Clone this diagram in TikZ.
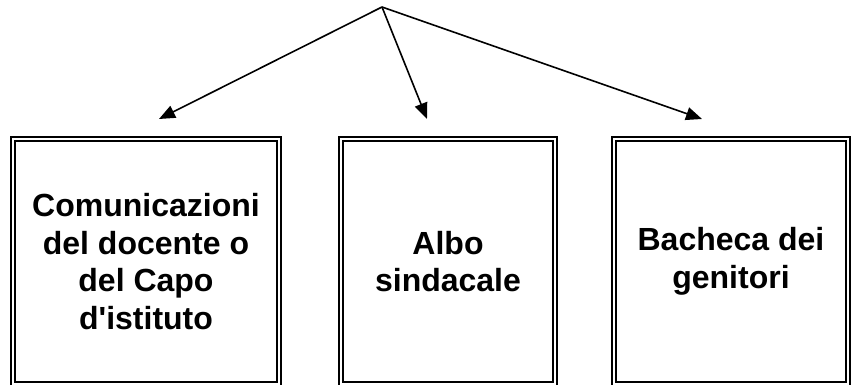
\documentclass[tikz,border=0pt]{standalone}
\usepackage{fontspec}
\setmainfont{Liberation Sans}[Ligatures=TeXOff]
\usetikzlibrary{arrows.meta}
\tikzset{
  boxnode/.style={draw=black, line width=2pt, double=white, double distance=2pt,
    rectangle, minimum height=245pt, inner sep=0pt, align=center,
    font=\fontsize{32}{37.5}\selectfont\bfseries},
  arrowline/.style={line width=1.6pt, -{Triangle[length=16pt,width=13pt]}}
}
\begin{document}
\begin{tikzpicture}[x=1pt,y=1pt]
\useasboundingbox (0,0) rectangle (852,385);
\fill[white] (0,0) rectangle (852,385);
\node[boxnode, minimum width=266pt] (b1) at (146,123.5) {Comunicazioni\\del docente o\\del Capo\\d'istituto};
\node[boxnode, minimum width=214pt] (b2) at (448,123.5) {Albo\\sindacale};
\node[boxnode, minimum width=234pt] (b3) at (731,123.5) {Bacheca dei\\genitori};
\coordinate (apex) at (382,378);
\coordinate (t1) at (159,266);
\coordinate (t2) at (427,266);
\coordinate (t3) at (702,266);
\draw[arrowline] (apex) -- (t1);
\draw[arrowline] (apex) -- (t2);
\draw[arrowline] (apex) -- (t3);
\end{tikzpicture}
\end{document}
